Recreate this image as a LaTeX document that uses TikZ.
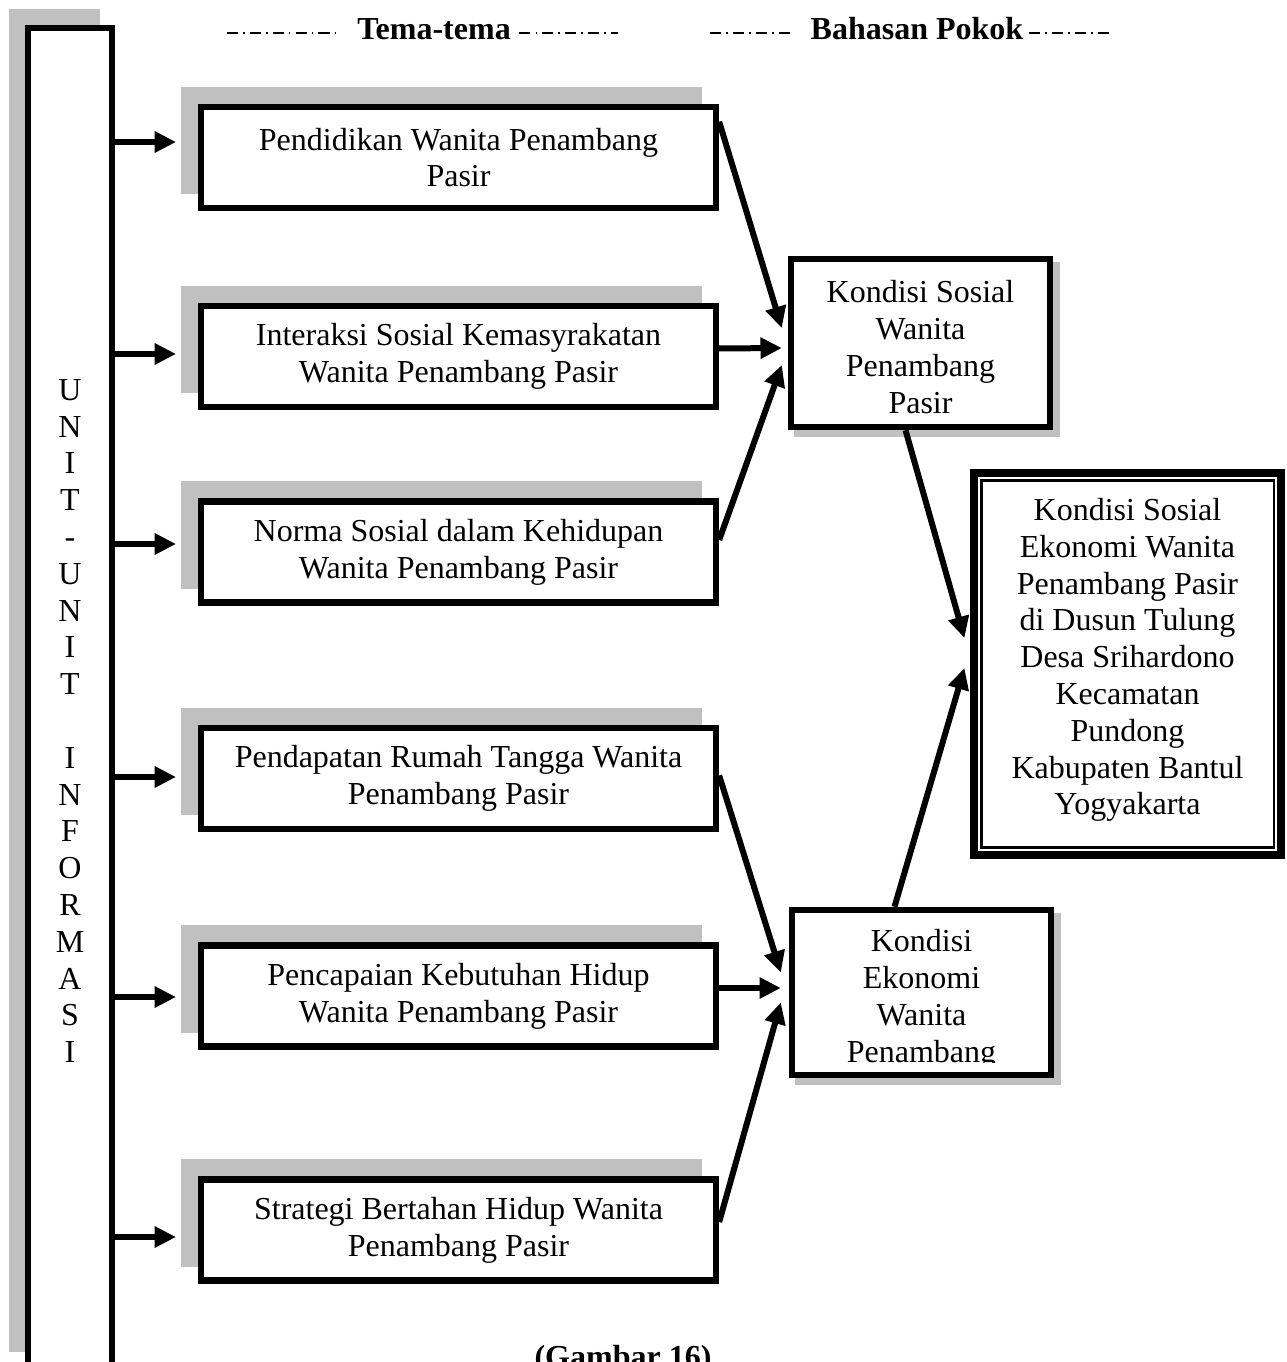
\documentclass[tikz,border=0pt]{standalone}
\usepackage{fontspec}
\setmainfont{Liberation Serif}
\usetikzlibrary{arrows.meta,calc,shadows}
\definecolor{shgray}{HTML}{C0C0C0}
\begin{document}
\begin{tikzpicture}[x=0.375pt,y=-0.375pt,
  every node/.style={font=\fontsize{12}{13.8}\selectfont},
  bx/.style={draw, line width=2.4pt, fill=white, inner sep=0pt, align=center},
  theme/.style={bx, minimum width=193.1pt, minimum height=37.9pt,
    general shadow={fill=shgray, draw=shgray, line width=2.4pt, shadow xshift=-6.4pt, shadow yshift=6.4pt}},
  sbox/.style={bx, minimum width=97.1pt,
    general shadow={fill=shgray, draw=shgray, line width=2.4pt, shadow xshift=2.45pt, shadow yshift=-2.45pt}},
  arr/.style={line width=2.25pt, -{Triangle[length=8pt,width=7.6pt]}},
  dashdot/.style={line width=0.65pt, dash pattern=on 4.2pt off 1.9pt on 0.6pt off 1.9pt},
  hdr/.style={font=\fontsize{12}{13.8}\selectfont\bfseries, inner sep=0pt}
]
\useasboundingbox (0,0) rectangle (1286,1362);

% headers
\node[hdr] (tema) at (434,29) {Tema-tema};
\node[hdr] (bahasan) at (917,29) {Bahasan Pokok};
\draw[dashdot] ($(tema.west)+(-130,4)$) -- ($(tema.west)+(-18,4)$);
\draw[dashdot] ($(tema.east)+(8,4)$) -- ($(tema.east)+(107,4)$);
\draw[dashdot] ($(bahasan.west)+(-100,4)$) -- ($(bahasan.west)+(-20,4)$);
\draw[dashdot] ($(bahasan.east)+(5,4)$) -- ($(bahasan.east)+(90,4)$);

% left unit box
\fill[shgray] (9,9) rectangle (100,1352);
\node[bx, minimum width=31.35pt, minimum height=519.75pt] (unit) at (70,721)
  {U\\N\\I\\T\\-\\U\\N\\I\\T\\\mbox{}\\I\\N\\F\\O\\R\\M\\A\\S\\I};

% theme boxes
\node[theme] (b1) at (458.5,157.5) {Pendidikan Wanita Penambang\\Pasir};
\node[theme] (b2) at (458.5,356.5) {Interaksi Sosial Kemasyrakatan\\Wanita Penambang Pasir};
\node[theme] (b3) at (458.5,552) {Norma Sosial dalam Kehidupan\\Wanita Penambang Pasir};
\node[theme] (b4) at (458.5,778.5) {Pendapatan Rumah Tangga Wanita\\Penambang Pasir};
\node[theme] (b5) at (458.5,996) {Pencapaian Kebutuhan Hidup\\Wanita Penambang Pasir};
\node[theme] (b6) at (458.5,1230) {Strategi Bertahan Hidup Wanita\\Penambang Pasir};

% arrow tips from unit box
\coordinate (t1) at (176,142);
\coordinate (t2) at (176,354);
\coordinate (t3) at (176,544);
\coordinate (t4) at (176,777);
\coordinate (t5) at (176,997);
\coordinate (t6) at (176,1237);
\foreach \t in {t1,t2,t3,t4,t5,t6}
  \draw[arr] (unit.east |- \t) -- (\t);

% bahasan pokok boxes
\node[sbox, minimum height=63pt] (ks) at (920.5,343) {};
\node[align=center] (kstxt) at ($(ks.center)+(0,4)$) {Kondisi Sosial\\Wanita\\Penambang\\Pasir};
\node[sbox, minimum height=61.9pt] (ke) at (921.5,992.5) {};
\begin{scope}
  \clip ($(ke.north west)+(3,3)$) rectangle ($(ke.east)+(-3,70)$);
  \node[align=center] (ketxt) at ($(ke.center)+(0,7)$) {Kondisi\\Ekonomi\\Wanita\\Penambang};
\end{scope}

% final box: thick outer border, thin inner border
\node[draw=none, fill=white, inner sep=0pt, minimum width=117.4pt, minimum height=145.5pt] (fin) at (1127.5,664) {};
\draw[line width=3pt] ($(fin.north west)+(4,4)$) rectangle ($(fin.south east)+(-4,-4)$);
\draw[line width=0.8pt] ($(fin.north west)+(11,11)$) rectangle ($(fin.south east)+(-11,-11)$);
\node[align=center] (fintxt) at ($(fin.center)+(0,-4)$)
  {Kondisi Sosial\\Ekonomi Wanita\\Penambang Pasir\\di Dusun Tulung\\Desa Srihardono\\Kecamatan\\Pundong\\Kabupaten Bantul\\Yogyakarta};

% arrows to ks
\draw[arr] ($(b1.north east)+(0,18)$) -- ($(ks.west)+(-6,-15)$);
\draw[arr] ($(b2.east)+(0,-8)$) -- ($(ks.west)+(-6,5)$);
\draw[arr] ($(b3.east)+(0,-12)$) -- ($(ks.west)+(-6,22)$);
% arrows to ke
\draw[arr] ($(b4.east)+(0,-3)$) -- ($(ke.west)+(-8,-20)$);
\draw[arr] ($(b5.east)+(0,-8)$) -- ($(ke.west)+(-8,-4.5)$);
\draw[arr] ($(b6.east)+(0,-8)$) -- ($(ke.west)+(-8,10)$);
% arrows to final
\draw[arr] ($(ks.south)+(-15,0)$) -- ($(fin.west)+(-6,-26)$);
\draw[arr] ($(ke.north)+(-27,0)$) -- ($(fin.west)+(-6,4)$);

% caption (cut off at the lower edge, as in the reference)
\node[hdr, anchor=base] (cap) at (623,1367) {(Gambar 16)};
\end{tikzpicture}
\end{document}
